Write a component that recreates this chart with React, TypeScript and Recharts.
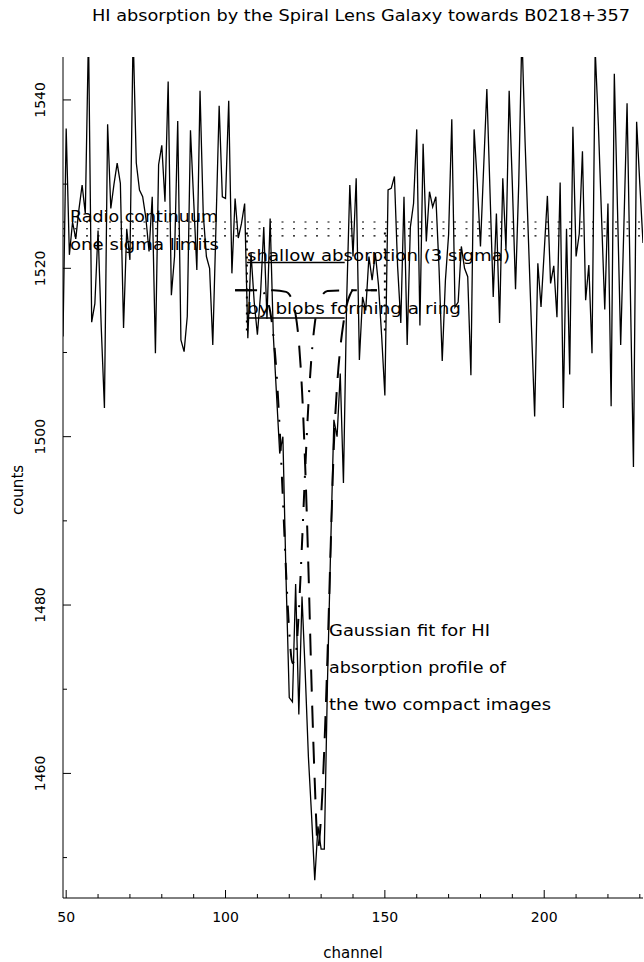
import React from 'react';
import { LineChart, Line, XAxis, YAxis, ReferenceLine } from 'recharts';

// ---- data ----
const FIRST_CHANNEL = 49;
const counts = [
  1511.9, 1536.6, 1521.6, 1525.5, 1523.5, 1527, 1529.9, 1526.5, 1548, 1513.6,
  1515.8, 1524.5, 1513, 1503.4, 1537.1, 1527.1, 1530, 1532.5, 1530.1, 1512.9,
  1524.7, 1521, 1548, 1532.5, 1529.3, 1528.5, 1526, 1522, 1528.5, 1509.9,
  1532.3, 1534.6, 1527.9, 1542.2, 1516.8, 1521.4, 1537.5, 1511.5, 1510.1, 1514.3,
  1536.4, 1528.1, 1519.8, 1541.1, 1526.5, 1521.4, 1520, 1510.9, 1525, 1539.3,
  1528.5, 1528.3, 1539.9, 1519.4, 1528.3, 1523.6, 1525.3, 1527.7, 1511.7, 1521.8,
  1516, 1512.1, 1517, 1524.9, 1514, 1525.9, 1512, 1505, 1498, 1500,
  1483, 1469, 1468.5, 1482.5, 1467, 1481, 1472, 1462, 1455, 1447.3,
  1453.7, 1451, 1451, 1471, 1487, 1502, 1500, 1507.5, 1494.5, 1516,
  1529.9, 1521.4, 1530.7, 1509.1, 1516.6, 1515, 1521.4, 1518.6, 1521.8, 1518,
  1511.9, 1504.9, 1529.3, 1529.5, 1530.9, 1520.2, 1513.5, 1528.5, 1510.9, 1524.9,
  1527.7, 1536.5, 1513.2, 1534.8, 1523.2, 1529.1, 1527.3, 1528.5, 1520, 1509,
  1518.6, 1524, 1537.7, 1515.4, 1516, 1522.6, 1520, 1519, 1507.3, 1536.5,
  1530.1, 1522.6, 1532, 1541.3, 1529, 1516.6, 1526.5, 1513.5, 1530.7, 1522.2,
  1541.1, 1530, 1517.5, 1530, 1548, 1535, 1524, 1513, 1502.4, 1520.6,
  1515.4, 1522, 1528.6, 1518.2, 1520.3, 1514.2, 1530.2, 1503.4, 1524.7, 1507.4,
  1536.8, 1521.4, 1524.1, 1533.9, 1516.2, 1520.4, 1509.9, 1546, 1537, 1526,
  1515.1, 1527.7, 1503.6, 1543.1, 1527, 1510.9, 1525, 1539.6, 1518, 1496.4,
  1537.4, 1530, 1523,
];

// Gaussian fit (dash-dot)
const fitOneChannels = [103, 110, 112, 113, 114, 115, 116, 117, 118, 119, 120, 121, 122, 123, 124, 125, 126, 127, 128, 129, 130, 132, 140, 147.5];
const fitOneCounts = [1517.4, 1517.4, 1517.1, 1516.3, 1514.9, 1512.1, 1507.6, 1500.9, 1492.6, 1483.9, 1476.8, 1473.1, 1474.0, 1479.3, 1487.3, 1496.1, 1503.8, 1509.6, 1513.4, 1515.6, 1516.6, 1517.3, 1517.4, 1517.4];

// Gaussian fit (dashed)
const fitTwoChannels = [103, 115, 119, 120, 121, 122, 123, 124, 125, 126, 127, 128, 129, 130, 131, 132, 133, 134, 135, 136, 137, 138, 139, 140, 147.5];
const fitTwoCounts = [1517.4, 1517.4, 1517.2, 1516.9, 1516.1, 1514.5, 1511.3, 1505.5, 1496.5, 1484.5, 1470.5, 1459, 1451.2, 1455, 1463, 1474, 1487, 1499, 1506, 1510.5, 1513.5, 1515.6, 1516.8, 1517.4, 1517.4];

const continuumLevels = [1525.5, 1524.7, 1523.85];
const shallowLevels = [1520.7, 1514.1];
const shallowRange = [106.7, 137.4];
const markerChannels = [106.7, 150];
const markerRange = [1512.6, 1524.8];

const channelTicks = [50, 60, 70, 80, 90, 100, 110, 120, 130, 140, 150, 160, 170, 180, 190, 200, 210, 220, 230];
const channelLabels = [50, 100, 150, 200];
const countTicks = [1450, 1460, 1470, 1480, 1490, 1500, 1510, 1520, 1530, 1540];
const countLabels = [1460, 1480, 1500, 1520, 1540];

const xDomain = [49, 231];
const yDomain = [1445.2, 1545.1];

const title = 'HI absorption by the Spiral Lens Galaxy towards B0218+357';

// ---- build ----
const mainData = counts.map((v, i) => ({ channel: FIRST_CHANNEL + i, counts: v }));
const fitOneData = fitOneChannels.map((c, i) => ({ channel: c, counts: fitOneCounts[i] }));
const fitTwoData = fitTwoChannels.map((c, i) => ({ channel: c, counts: fitTwoCounts[i] }));

const FONT = 'DejaVu Sans, sans-serif';
const INK = '#000';

const BottomTick = (props: any) => {
  const { x, y, payload } = props;
  const major = channelLabels.includes(payload.value);
  return (
    <g>
      <line x1={x} x2={x} y1={y} y2={y - (major ? 8 : 4)} stroke={INK} strokeWidth={1} />
      {major && (
        <text x={x} y={y + 24} textAnchor="middle" fontFamily={FONT} fontSize={14} fill={INK}>
          {payload.value}
        </text>
      )}
    </g>
  );
};

const TopTick = (props: any) => {
  const { x, y, payload } = props;
  const major = channelLabels.includes(payload.value);
  return <line x1={x} x2={x} y1={y} y2={y + (major ? 8 : 4)} stroke={INK} strokeWidth={1} />;
};

const LeftTick = (props: any) => {
  const { x, y, payload } = props;
  const major = countLabels.includes(payload.value);
  const lx = 40;
  return (
    <g>
      <line x1={x} x2={x + (major ? 8 : 4)} y1={y} y2={y} stroke={INK} strokeWidth={1} />
      {major && (
        <text
          x={lx}
          y={y}
          transform={`rotate(-90 ${lx} ${y})`}
          textAnchor="middle"
          dominantBaseline="central"
          fontFamily={FONT}
          fontSize={14}
          fill={INK}
        >
          {payload.value}
        </text>
      )}
    </g>
  );
};

const RightTick = (props: any) => {
  const { x, y, payload } = props;
  const major = countLabels.includes(payload.value);
  return <line x1={x} x2={x - (major ? 8 : 4)} y1={y} y2={y} stroke={INK} strokeWidth={1} />;
};

const texts: { s: string; x: number; y: number; w: number }[] = [
  { s: 'Radio continuum', x: 70, y: 222, w: 148 },
  { s: 'one sigma limits', x: 70, y: 250, w: 149 },
  { s: 'shallow absorption (3 sigma)', x: 247, y: 261, w: 263 },
  { s: 'by blobs forming a ring', x: 247, y: 314, w: 214 },
  { s: 'Gaussian fit for HI', x: 329, y: 636, w: 161 },
  { s: 'absorption profile of', x: 329, y: 673, w: 177 },
  { s: 'the two compact images', x: 329, y: 710, w: 222 },
];

export default function App() {
  return (
    <div style={{ position: 'relative', width: 644, height: 962, background: '#fff' }}>
      <style>{'body{margin:0;background:#fff;}'}</style>
      <LineChart width={644} height={962} margin={{ top: 57, right: 1, bottom: 0, left: 0 }}>
        <XAxis
          dataKey="channel"
          type="number"
          domain={xDomain}
          allowDataOverflow
          ticks={channelTicks}
          interval={0}
          height={64}
          tickSize={0}
          tickMargin={0}
          tickLine={false}
          axisLine={{ stroke: INK, strokeWidth: 1 }}
          tick={<BottomTick />}
        />
        <XAxis
          xAxisId="top"
          orientation="top"
          dataKey="channel"
          type="number"
          domain={xDomain}
          allowDataOverflow
          ticks={channelTicks}
          interval={0}
          height={0}
          tickSize={0}
          tickMargin={0}
          tickLine={false}
          axisLine={{ stroke: INK, strokeWidth: 1 }}
          tick={<TopTick />}
        />
        <YAxis
          type="number"
          domain={yDomain}
          allowDataOverflow
          ticks={countTicks}
          interval={0}
          width={63}
          tickSize={0}
          tickMargin={0}
          tickLine={false}
          axisLine={{ stroke: INK, strokeWidth: 1 }}
          tick={<LeftTick />}
        />
        <YAxis
          yAxisId="right"
          orientation="right"
          type="number"
          domain={yDomain}
          allowDataOverflow
          ticks={countTicks}
          interval={0}
          width={0}
          tickSize={0}
          tickMargin={0}
          tickLine={false}
          axisLine={{ stroke: INK, strokeWidth: 1 }}
          tick={<RightTick />}
        />
        {continuumLevels.map((lv) => (
          <ReferenceLine key={'c' + lv} y={lv} stroke={INK} strokeWidth={1.2} strokeDasharray="2 9.5" />
        ))}
        {shallowLevels.map((lv) => (
          <ReferenceLine
            key={'s' + lv}
            segment={[{ x: shallowRange[0], y: lv }, { x: shallowRange[1], y: lv }]}
            stroke={INK}
            strokeWidth={1.5}
          />
        ))}
        {markerChannels.map((c) => (
          <ReferenceLine
            key={'m' + c}
            segment={[{ x: c, y: markerRange[0] }, { x: c, y: markerRange[1] }]}
            stroke={INK}
            strokeWidth={2}
            strokeDasharray="2 6"
          />
        ))}
        <Line
          data={mainData}
          dataKey="counts"
          type="linear"
          stroke={INK}
          strokeWidth={1.3}
          dot={false}
          activeDot={false}
          isAnimationActive={false}
        />
        <Line
          data={fitOneData}
          dataKey="counts"
          type="monotone"
          stroke={INK}
          strokeWidth={2}
          strokeDasharray="17 12 2 12"
          dot={false}
          activeDot={false}
          isAnimationActive={false}
        />
        <Line
          data={fitTwoData}
          dataKey="counts"
          type="monotone"
          stroke={INK}
          strokeWidth={2}
          strokeDasharray="22 14"
          dot={false}
          activeDot={false}
          isAnimationActive={false}
        />
      </LineChart>
      <svg
        width={644}
        height={962}
        style={{ position: 'absolute', left: 0, top: 0, pointerEvents: 'none' }}
      >
        <text x={92} y={21} fontFamily={FONT} fontSize={15} fill={INK} textLength={538} lengthAdjust="spacingAndGlyphs">
          {title}
        </text>
        {texts.map((t) => (
          <text key={t.s} x={t.x} y={t.y} fontFamily={FONT} fontSize={15} fill={INK} textLength={t.w} lengthAdjust="spacingAndGlyphs">
            {t.s}
          </text>
        ))}
        <text x={353} y={958} textAnchor="middle" fontFamily={FONT} fontSize={15} fill={INK}>
          channel
        </text>
        <text
          x={18}
          y={490}
          transform="rotate(-90 18 490)"
          textAnchor="middle"
          dominantBaseline="central"
          fontFamily={FONT}
          fontSize={15}
          fill={INK}
        >
          counts
        </text>
      </svg>
    </div>
  );
}
